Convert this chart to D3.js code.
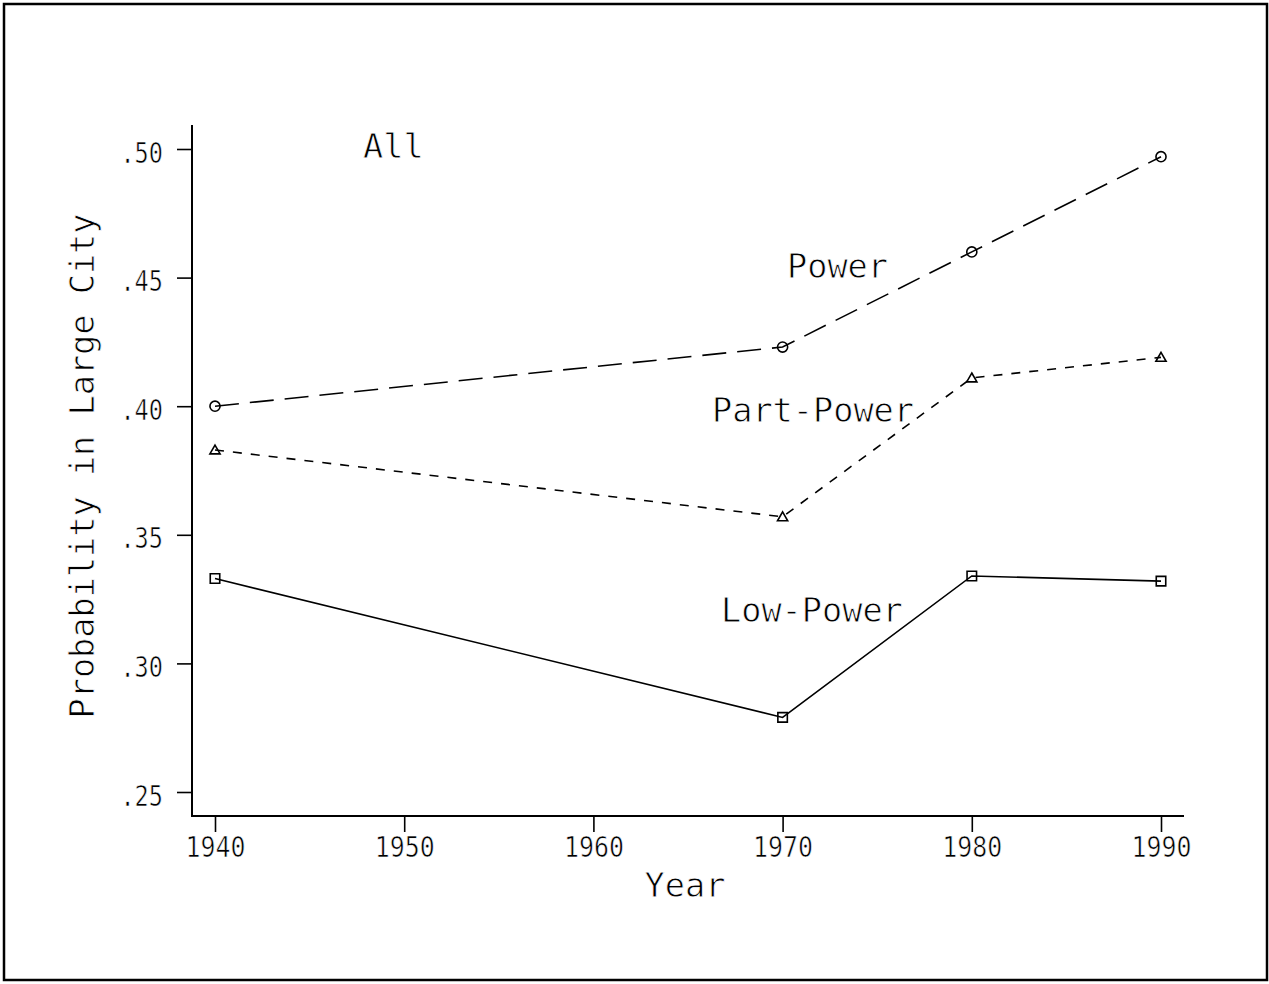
<!DOCTYPE html>
<html>
<head>
<meta charset="utf-8">
<script src="https://cdn.jsdelivr.net/npm/d3@7"></script>
<style>
  html, body { margin: 0; padding: 0; background: #fff; }
  svg { display: block; }
  text { font-family: "DejaVu Sans Mono", monospace; fill: #000; stroke: #fff; paint-order: normal; }
</style>
</head>
<body>
<svg id="chart" width="1269" height="984"></svg>
<script>
// ---- Data ----
const years = [1940, 1970, 1980, 1990];
const powerValues = [0.400, 0.423, 0.460, 0.497];
const partPowerValues = [0.383, 0.357, 0.411, 0.419];
const lowPowerValues = [0.333, 0.279, 0.334, 0.332];
const xTickValues = [1940, 1950, 1960, 1970, 1980, 1990];
const yTickValues = [0.25, 0.30, 0.35, 0.40, 0.45, 0.50];
const yTickLabels = [".25", ".30", ".35", ".40", ".45", ".50"];
const seriesNames = ["Power", "Part-Power", "Low-Power"];
const panelTitle = "All";
const xTitle = "Year";
const yTitle = "Probability in Large City";

const svg = d3.select("#chart");

// frame
svg.append("rect").attr("x", 4).attr("y", 4).attr("width", 1263).attr("height", 976)
  .attr("fill", "none").attr("stroke", "#000").attr("stroke-width", 2.5);

const x = d3.scaleLinear().domain([1940, 1990]).range([215, 1161]);
const y = d3.scaleLinear().domain([0.25, 0.50]).range([792, 149]);

const axisX0 = 192, axisY0 = 816;

// axes lines
svg.append("line").attr("x1", axisX0).attr("x2", axisX0).attr("y1", 125).attr("y2", axisY0 + 1)
  .attr("stroke", "#000").attr("stroke-width", 2);
svg.append("line").attr("x1", axisX0).attr("x2", 1184).attr("y1", axisY0).attr("y2", axisY0)
  .attr("stroke", "#000").attr("stroke-width", 2);

function fitText(sel, n, adv) {
  sel.attr("textLength", n * adv).attr("lengthAdjust", "spacingAndGlyphs");
}

// y axis
const yAxis = d3.axisLeft(y).tickValues(yTickValues).tickSize(15).tickPadding(14)
  .tickFormat((d, i) => yTickLabels[i]);
const gy = svg.append("g").attr("transform", `translate(${axisX0},0)`).call(yAxis);
gy.select(".domain").remove();
gy.selectAll(".tick line").attr("stroke", "#000").attr("stroke-width", 1.6);
gy.selectAll(".tick text").attr("font-size", 28).attr("font-family", "DejaVu Sans Mono")
  .attr("fill", "#000").attr("stroke", "#fff").attr("stroke-width", 0.6)
  .attr("dy", null).attr("y", 13).attr("x", -29)
  .each(function() { const t = d3.select(this); fitText(t, t.text().length, 14.2); });

// x axis
const xAxis = d3.axisBottom(x).tickValues(xTickValues).tickSize(16).tickPadding(8)
  .tickFormat(d3.format("d"));
const gx = svg.append("g").attr("transform", `translate(0,${axisY0})`).call(xAxis);
gx.select(".domain").remove();
gx.selectAll(".tick line").attr("stroke", "#000").attr("stroke-width", 1.6);
gx.selectAll(".tick text").attr("font-size", 28).attr("font-family", "DejaVu Sans Mono")
  .attr("fill", "#000").attr("stroke", "#fff").attr("stroke-width", 0.6)
  .attr("dy", null).attr("y", 41)
  .each(function() { const t = d3.select(this); fitText(t, t.text().length, 15); });

// series
const series = [
  { name: seriesNames[0], values: powerValues, dash: "24,11", marker: "circle" },
  { name: seriesNames[1], values: partPowerValues, dash: "9,9", marker: "triangle" },
  { name: seriesNames[2], values: lowPowerValues, dash: null, marker: "square" }
];

const line = d3.line().x(d => x(d[0])).y(d => y(d[1]));

series.forEach(s => {
  const pts = years.map((yr, i) => [yr, s.values[i]]);
  svg.append("path").datum(pts).attr("d", line)
    .attr("fill", "none").attr("stroke", "#000").attr("stroke-width", 1.6)
    .attr("stroke-dasharray", s.dash);
  const symType = s.marker === "circle" ? d3.symbolCircle :
                  s.marker === "triangle" ? d3.symbolTriangle : d3.symbolSquare;
  const size = s.marker === "circle" ? 80 : s.marker === "triangle" ? 45 : 90;
  svg.selectAll(null).data(pts).enter().append("path")
    .attr("d", d3.symbol().type(symType).size(size))
    .attr("transform", d => `translate(${x(d[0])},${y(d[1]) + (s.marker === "triangle" ? 1 : 0)})`)
    .attr("fill", "none").attr("stroke", "#000").attr("stroke-width", 1.6);
});

// labels
function label(txt, xPos, yPos, anchor) {
  const t = svg.append("text").attr("x", xPos).attr("y", yPos).attr("font-size", 34)
    .attr("stroke-width", 0.8)
    .attr("text-anchor", anchor || "start").text(txt);
  fitText(t, txt.length, 20.2);
  return t;
}
label(panelTitle, 363, 158);
label(seriesNames[0], 787, 278);
label(seriesNames[1], 712, 422);
label(seriesNames[2], 721, 622);
label(xTitle, 685, 897, "middle");

const yt = svg.append("text").attr("transform", "translate(94,466) rotate(-90)")
  .attr("font-size", 34).attr("stroke-width", 0.8).attr("text-anchor", "middle").text(yTitle);
fitText(yt, yTitle.length, 20.2);
</script>
</body>
</html>
